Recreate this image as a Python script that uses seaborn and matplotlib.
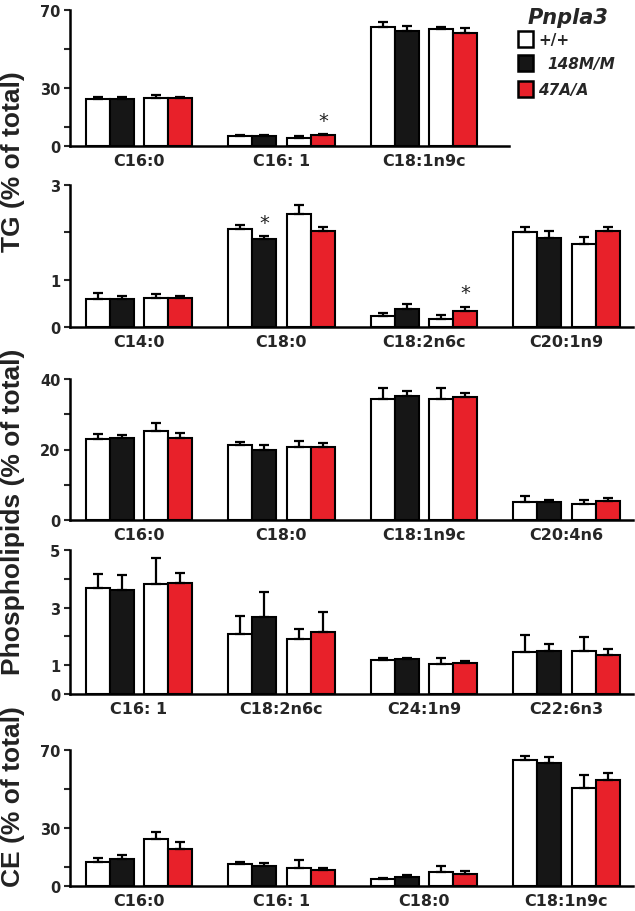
import numpy as np
import pandas as pd
import matplotlib
matplotlib.use("Agg")
import matplotlib.pyplot as plt
import seaborn as sns
from matplotlib.patches import Rectangle

# ---------------- data ----------------
SERIES = ["wt_a", "148M/M", "wt_b", "47A/A"]

tg_major_cats = ["C16:0", "C16: 1", "C18:1n9c"]
tg_major_wt_a = [24.0, 5.3, 61.1]
tg_major_wt_a_sem = [1.0, 0.4, 2.9]
tg_major_mm = [24.2, 5.4, 59.0]
tg_major_mm_sem = [0.8, 0.3, 2.7]
tg_major_wt_b = [24.7, 4.0, 60.0]
tg_major_wt_b_sem = [1.3, 1.0, 1.0]
tg_major_aa = [24.6, 5.8, 58.2]
tg_major_aa_sem = [0.4, 0.4, 2.4]

tg_minor_cats = ["C14:0", "C18:0", "C18:2n6c", "C20:1n9"]
tg_minor_wt_a = [0.60, 2.06, 0.23, 2.00]
tg_minor_wt_a_sem = [0.12, 0.09, 0.06, 0.11]
tg_minor_mm = [0.60, 1.86, 0.37, 1.89]
tg_minor_mm_sem = [0.06, 0.06, 0.12, 0.14]
tg_minor_wt_b = [0.62, 2.39, 0.17, 1.75]
tg_minor_wt_b_sem = [0.07, 0.18, 0.09, 0.15]
tg_minor_aa = [0.62, 2.03, 0.34, 2.03]
tg_minor_aa_sem = [0.03, 0.09, 0.09, 0.09]

pl_major_cats = ["C16:0", "C18:0", "C18:1n9c", "C20:4n6"]
pl_major_wt_a = [22.9, 21.2, 34.2, 5.1]
pl_major_wt_a_sem = [1.5, 0.9, 3.3, 1.7]
pl_major_mm = [23.4, 19.8, 35.2, 5.0]
pl_major_mm_sem = [0.6, 1.4, 1.4, 0.7]
pl_major_wt_b = [25.3, 20.6, 34.2, 4.6]
pl_major_wt_b_sem = [2.3, 1.9, 3.3, 1.1]
pl_major_aa = [23.3, 20.8, 35.0, 5.4]
pl_major_aa_sem = [1.3, 1.1, 1.0, 0.8]

pl_minor_cats = ["C16: 1", "C18:2n6c", "C24:1n9", "C22:6n3"]
pl_minor_wt_a = [3.67, 2.07, 1.19, 1.46]
pl_minor_wt_a_sem = [0.50, 0.64, 0.05, 0.58]
pl_minor_mm = [3.61, 2.66, 1.20, 1.49]
pl_minor_mm_sem = [0.52, 0.87, 0.04, 0.25]
pl_minor_wt_b = [3.81, 1.90, 1.04, 1.50]
pl_minor_wt_b_sem = [0.90, 0.36, 0.22, 0.47]
pl_minor_aa = [3.86, 2.14, 1.09, 1.35]
pl_minor_aa_sem = [0.34, 0.70, 0.06, 0.20]

ce_cats = ["C16:0", "C16: 1", "C18:0", "C18:1n9c"]
ce_wt_a = [12.6, 11.4, 3.8, 64.8]
ce_wt_a_sem = [1.9, 0.9, 0.5, 2.2]
ce_mm = [14.0, 10.4, 4.8, 63.2]
ce_mm_sem = [2.0, 1.4, 0.9, 3.3]
ce_wt_b = [24.0, 9.3, 7.4, 50.3]
ce_wt_b_sem = [4.0, 4.2, 3.1, 6.9]
ce_aa = [19.3, 8.3, 6.2, 54.6]
ce_aa_sem = [3.5, 0.9, 1.4, 3.4]

# significance markers: (panel index, category index, series)
stars = [(0, 1, "47A/A"), (1, 1, "148M/M"), (1, 2, "47A/A")]

y_ticks_70 = [0, 10, 30, 50, 70]
y_labels_70 = ["0", "", "30", "", "70"]
y_ticks_3 = [0, 1, 2, 3]
y_labels_3 = ["0", "1", "", "3"]
y_ticks_40 = [0, 10, 20, 30, 40]
y_labels_40 = ["0", "", "20", "", "40"]
y_ticks_5 = [0, 1, 2, 3, 4, 5]
y_labels_5 = ["0", "1", "", "3", "", "5"]

# ---------------- style ----------------
sns.set_theme(style="ticks")
plt.rcParams["font.family"] = ["DejaVu Sans"]
PALETTE = {"wt_a": "white", "148M/M": "#161616", "wt_b": "white", "47A/A": "#e8212a"}
BAR_W = 0.169
OFFSET = {"wt_a": -0.121 - BAR_W, "148M/M": -0.121, "wt_b": 0.121, "47A/A": 0.121 + BAR_W}

W, H = 635, 912
fig = plt.figure(figsize=(W / 100, H / 100), dpi=100)


def make_df(cats, vals, sems):
    rows = []
    for s, v, e in zip(SERIES, vals, sems):
        for i, c in enumerate(cats):
            rows.append({"cat": c, "grp": i, "series": s, "value": v[i], "sem": e[i],
                         "pos": i + OFFSET[s]})
    return pd.DataFrame(rows)


panels = [
    dict(cats=tg_major_cats,
         vals=[tg_major_wt_a, tg_major_mm, tg_major_wt_b, tg_major_aa],
         sems=[tg_major_wt_a_sem, tg_major_mm_sem, tg_major_wt_b_sem, tg_major_aa_sem],
         top=11, bottom=147, right=509, ylim=70, ticks=y_ticks_70, labels=y_labels_70),
    dict(cats=tg_minor_cats,
         vals=[tg_minor_wt_a, tg_minor_mm, tg_minor_wt_b, tg_minor_aa],
         sems=[tg_minor_wt_a_sem, tg_minor_mm_sem, tg_minor_wt_b_sem, tg_minor_aa_sem],
         top=186, bottom=328, right=633, ylim=3, ticks=y_ticks_3, labels=y_labels_3),
    dict(cats=pl_major_cats,
         vals=[pl_major_wt_a, pl_major_mm, pl_major_wt_b, pl_major_aa],
         sems=[pl_major_wt_a_sem, pl_major_mm_sem, pl_major_wt_b_sem, pl_major_aa_sem],
         top=380, bottom=521, right=633, ylim=40, ticks=y_ticks_40, labels=y_labels_40),
    dict(cats=pl_minor_cats,
         vals=[pl_minor_wt_a, pl_minor_mm, pl_minor_wt_b, pl_minor_aa],
         sems=[pl_minor_wt_a_sem, pl_minor_mm_sem, pl_minor_wt_b_sem, pl_minor_aa_sem],
         top=551, bottom=695, right=633, ylim=5, ticks=y_ticks_5, labels=y_labels_5),
    dict(cats=ce_cats,
         vals=[ce_wt_a, ce_mm, ce_wt_b, ce_aa],
         sems=[ce_wt_a_sem, ce_mm_sem, ce_wt_b_sem, ce_aa_sem],
         top=751, bottom=887, right=633, ylim=70, ticks=y_ticks_70, labels=y_labels_70),
]

LEFT = 70
GROUP_PX = 142.5
X0 = -69 / GROUP_PX

for pi, p in enumerate(panels):
    ax = fig.add_axes([LEFT / W, 1 - p["bottom"] / H, (p["right"] - LEFT) / W,
                       (p["bottom"] - p["top"]) / H])
    df = make_df(p["cats"], p["vals"], p["sems"])
    sns.barplot(data=df, x="pos", y="value", hue="series", hue_order=SERIES,
                palette=PALETTE, native_scale=True, dodge=False, width=1.0,
                errorbar=None, edgecolor="black", linewidth=1.5, legend=False,
                saturation=1, ax=ax, zorder=2)
    ax.errorbar(df["pos"], df["value"], yerr=[np.zeros(len(df)), df["sem"]],
                fmt="none", ecolor="black", elinewidth=1.6, capsize=3.8,
                capthick=1.6, zorder=3)
    ax.set_xlim(X0, X0 + (p["right"] - LEFT) / GROUP_PX)
    ax.set_ylim(0, p["ylim"])
    ax.set_xticks(range(len(p["cats"])))
    ax.set_xticklabels(p["cats"], fontsize=11.5, fontweight="bold")
    ax.set_yticks(p["ticks"])
    ax.set_yticklabels(p["labels"], fontsize=10.5, fontweight="bold")
    ax.tick_params(axis="x", length=0, pad=5)
    ax.tick_params(axis="y", length=4, width=1.5, pad=3, direction="out")
    ax.set_xlabel("")
    ax.set_ylabel("")
    for side in ["top", "right"]:
        ax.spines[side].set_visible(False)
    for side in ["left", "bottom"]:
        ax.spines[side].set_linewidth(1.8)
        ax.spines[side].set_color("black")
    ax.patch.set_alpha(0)
    for (spi, ci, s) in stars:
        if spi == pi:
            sub = df[(df["grp"] == ci) & (df["series"] == s)].iloc[0]
            ax.annotate("*", (sub["pos"], sub["value"] + sub["sem"]),
                        xytext=(0, 3), textcoords="offset points", ha="center",
                        va="bottom", fontsize=14, color="#222222")

# y-axis group labels
ylab_kw = dict(rotation=90, ha="center", va="center", fontsize=19,
               fontweight="bold", family=["Liberation Sans", "DejaVu Sans"], color="#222222")
fig.text(13 / W, 1 - 162 / H, "TG (% of total)", **ylab_kw)
fig.text(13 / W, 1 - 512 / H, "Phospholipids (% of total)", **ylab_kw)
fig.text(13 / W, 1 - 797 / H, "CE (% of total)", **ylab_kw)

# legend
fig.text(528 / W, 1 - 18 / H, "Pnpla3", fontsize=15, fontweight="bold",
         fontstyle="italic", ha="left", va="center")
leg_items = [("+/+", "white", 538, "normal"), ("148M/M", "#161616", 547, "italic"),
             ("47A/A", "#e8212a", 538, "italic")]
leg_y = [40, 64, 90]
for (lab, col, tx, sty), yc in zip(leg_items, leg_y):
    fig.patches.append(Rectangle((518 / W, 1 - (yc + 8) / H), 15 / W, 16 / H,
                                 transform=fig.transFigure, facecolor=col,
                                 edgecolor="black", linewidth=1.8))
    fig.text(tx / W, 1 - yc / H, lab, fontsize=11, fontweight="bold",
             fontstyle=sty, ha="left", va="center")

fig.savefig("out.png", dpi=100)
